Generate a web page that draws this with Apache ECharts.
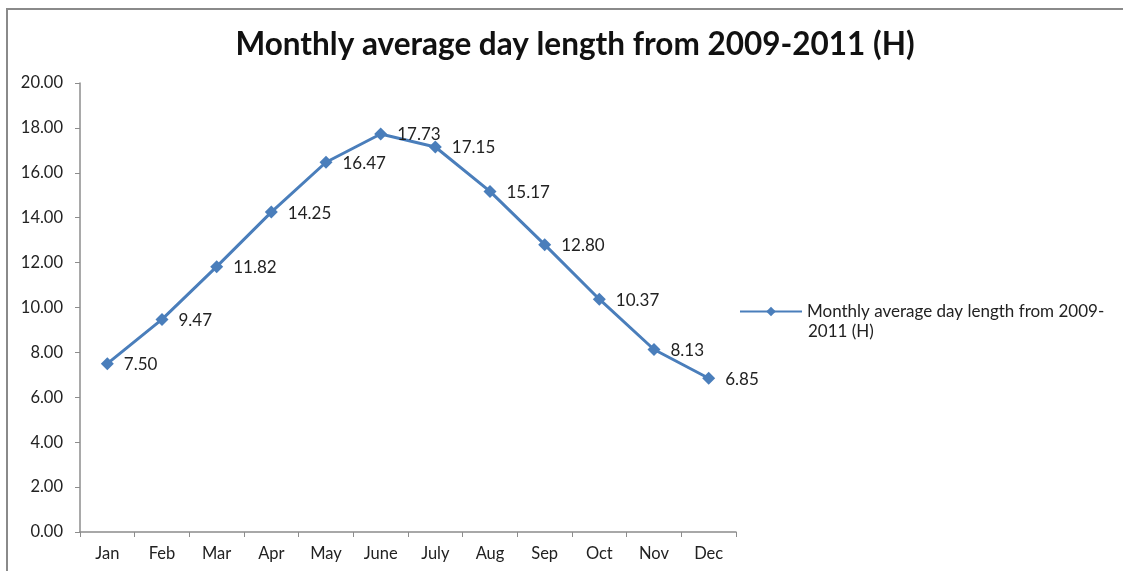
<!DOCTYPE html>
<html>
<head>
<meta charset="utf-8">
<style>
  html, body { margin: 0; padding: 0; background: #fff; }
  #chart { width: 1123px; height: 571px; }
</style>
<script src="https://cdn.jsdelivr.net/npm/echarts@6/dist/echarts.min.js"></script>
</head>
<body>
<div id="chart"></div>
<script>
// Month names along the category axis
const months = ['Jan', 'Feb', 'Mar', 'Apr', 'May', 'June', 'July', 'Aug', 'Sep', 'Oct', 'Nov', 'Dec'];
// Average day length per month, hours
const dayLength = [7.50, 9.47, 11.82, 14.25, 16.47, 17.73, 17.15, 15.17, 12.80, 10.37, 8.13, 6.85];
const seriesName = 'Monthly average day length from 2009-2011 (H)';
// Legend text, wrapped over two lines
const legendLines = ['Monthly average day length from 2009-', '2011 (H)'];

const font = 'Lato, "Open Sans", sans-serif';
const axisGray = '#8c8c8c';
const lineBlue = '#4a7ebb';
const textColor = '#222';

const chart = echarts.init(document.getElementById('chart'));
chart.setOption({
  animation: false,
  backgroundColor: '#fff',
  title: {
    text: 'Monthly average day length from 2009-2011 (H)',
    left: 570,
    textAlign: 'center',
    top: 24,
    textStyle: { fontFamily: font, fontSize: 31.5, fontWeight: 'bold', color: '#111' }
  },
  legend: {
    left: 734,
    top: 298,
    itemWidth: 62,
    itemHeight: 12,
    formatter: () => legendLines[0],
    textStyle: { fontFamily: font, fontSize: 17, color: textColor },
    data: [seriesName]
  },
  grid: { left: 80, right: 387, top: 83, bottom: 39 },
  xAxis: {
    type: 'category',
    data: months,
    boundaryGap: true,
    axisLine: { lineStyle: { color: axisGray, width: 1.5 } },
    axisTick: { show: true, alignWithLabel: false, length: 5, lineStyle: { color: axisGray } },
    axisLabel: { fontFamily: font, fontSize: 16.5, color: textColor, margin: 13 }
  },
  yAxis: {
    type: 'value',
    min: 0,
    max: 20,
    interval: 2,
    axisLine: { show: true, lineStyle: { color: axisGray, width: 1.5 } },
    axisTick: { show: true, length: 5, lineStyle: { color: axisGray } },
    splitLine: { show: false },
    axisLabel: {
      fontFamily: font, fontSize: 16.5, color: textColor, margin: 17,
      formatter: v => v.toFixed(2)
    }
  },
  series: [{
    name: seriesName,
    type: 'line',
    data: dayLength,
    symbol: 'diamond',
    symbolSize: 13,
    lineStyle: { color: lineBlue, width: 3 },
    itemStyle: { color: lineBlue },
    label: {
      show: true,
      position: 'right',
      distance: 10,
      offset: [0, 1],
      fontFamily: font,
      fontSize: 17,
      color: textColor,
      formatter: p => p.value.toFixed(2)
    }
  }],
  graphic: [
    { type: 'line', shape: { x1: 6, y1: 9, x2: 1123, y2: 9 }, style: { stroke: '#8a8a8a', lineWidth: 2 } },
    { type: 'line', shape: { x1: 7, y1: 8, x2: 7, y2: 571 }, style: { stroke: '#8a8a8a', lineWidth: 2 } },
    {
      type: 'text', left: 808, top: 323,
      style: { text: legendLines[1], font: '17px ' + font, fill: textColor }
    }
  ]
});
</script>
</body>
</html>
